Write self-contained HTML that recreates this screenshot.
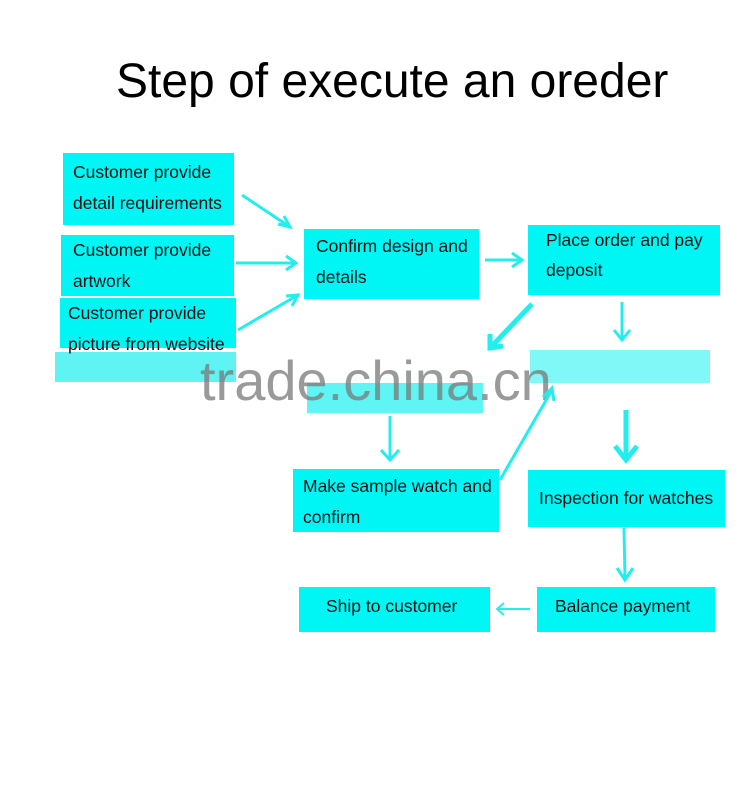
<!DOCTYPE html>
<html><head><style>
body{margin:0;width:750px;height:800px;background:#fff;position:relative;overflow:hidden;font-family:"Liberation Sans",sans-serif}
.b{position:absolute;background:#00f5f5;color:#111;font-size:17.5px;line-height:31px;box-sizing:border-box;white-space:nowrap}
.f{position:absolute;background:#80f8f8}
</style></head><body>
<div style="position:absolute;left:116px;top:54px;font-size:48px;color:#000;white-space:nowrap">Step of execute an oreder</div>
<div class="f" style="left:55px;top:352px;width:181px;height:30px;background:#60f3f3"></div>
<div class="b" style="left:63px;top:153px;width:171px;height:72px;padding:4px 0 0 10px">Customer provide<br>detail requirements</div>
<div class="b" style="left:61px;top:235px;width:173px;height:61px;padding:0 0 0 12px">Customer provide<br>artwork</div>
<div class="b" style="left:60px;top:302px;width:176px;height:50px;padding:0 0 0 8px;line-height:31px;margin-top:-4px">Customer provide<br>picture from website</div>
<div class="b" style="left:304px;top:229px;width:175px;height:70px;padding:2px 0 0 12px">Confirm design and<br>details</div>
<div class="b" style="left:528px;top:225px;width:192px;height:70px;padding:0 0 0 18px;line-height:30px">Place order and pay<br>deposit</div>
<div class="f" style="left:530px;top:350px;width:180px;height:33px"></div>
<div class="f" style="left:307px;top:383px;width:176px;height:30px;background:#60f5f5"></div>
<div class="b" style="left:293px;top:469px;width:206px;height:63px;padding:2px 0 0 10px">Make sample watch and<br>confirm</div>
<div class="b" style="left:528px;top:470px;width:197px;height:57px;padding:12px 0 0 11px;line-height:32px">Inspection for watches</div>
<div class="b" style="left:299px;top:587px;width:191px;height:45px;padding:4px 0 0 27px">Ship to customer</div>
<div class="b" style="left:537px;top:587px;width:178px;height:45px;padding:4px 0 0 18px">Balance payment</div>
<div style="position:absolute;left:200px;top:348px;font-size:56px;color:rgba(120,120,120,0.75);white-space:nowrap">trade.china.cn</div>
<svg width="750" height="800" style="position:absolute;left:0;top:0">
<g stroke="#22eeee" fill="none" stroke-width="3">
<path d="M242 195 L290 227 M278 224 L290 227 L284 216"/>
<path d="M236 263 L296 263 M286 256 L296 263 L286 270"/>
<path d="M238 330 L298 295 M286 296 L298 295 L292 306"/>
<path d="M485 260 L522 260 M512 253 L522 260 L512 267"/>
<path d="M532 304 L490 348 M490 334 L490 348 L503 346" stroke-width="5"/>
<path d="M622 302 L622 340 M614 330 L622 340 L630 330"/>
<path d="M390 416 L390 460 M381 450 L390 460 L399 450"/>
<path d="M500 480 L552 390 M543 397 L552 388 L554 401"/>
<path d="M626 410 L626 458 M615 446 L626 460 L637 446" stroke-width="5"/>
<path d="M624 528 L625 578 M617 568 L625 580 L633 568"/>
<path d="M530 609 L497 609 M504 603 L497 609 L504 615" stroke-width="2"/>
</g></svg>
</body></html>
